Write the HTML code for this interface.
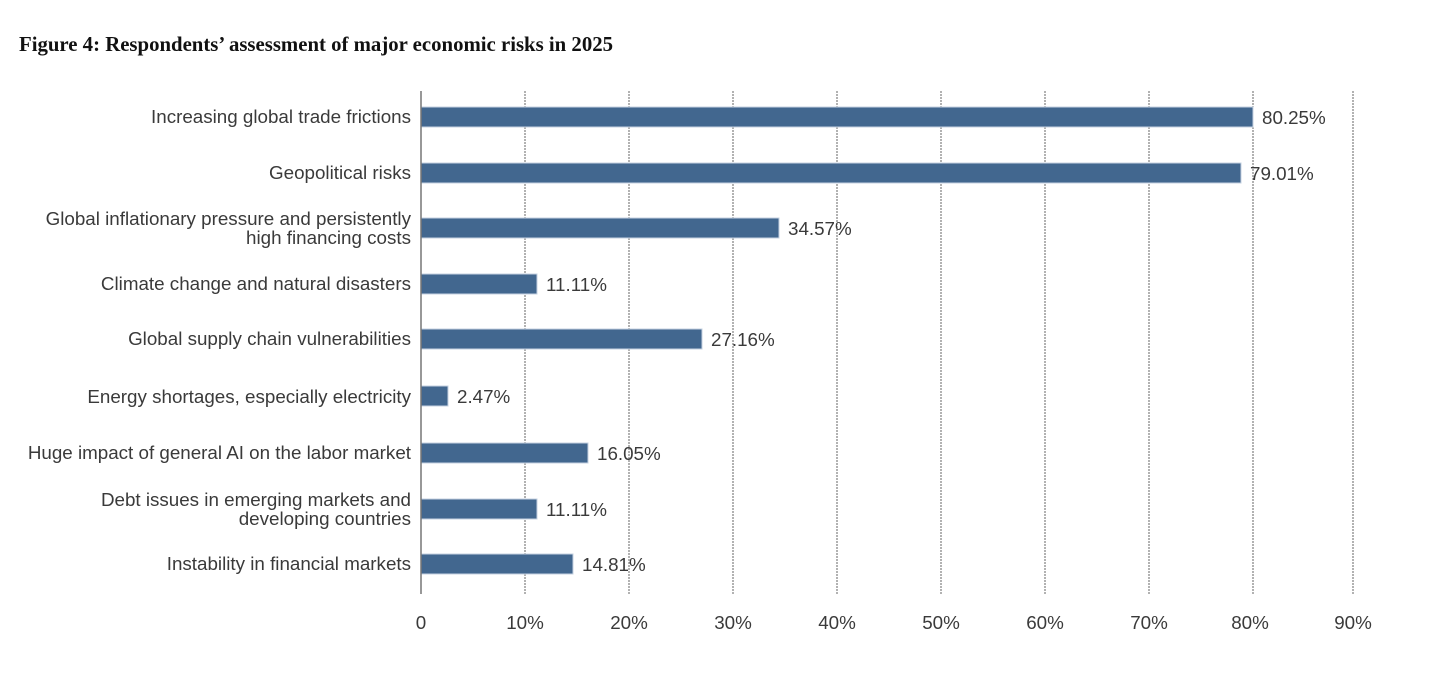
<!DOCTYPE html>
<html><head><style>
body{margin:0;background:#fff;width:1436px;height:672px;overflow:hidden}
</style></head><body>
<svg width="1436" height="672" xmlns="http://www.w3.org/2000/svg" font-family="Liberation Sans, sans-serif">
<text x="19" y="51" font-family="Liberation Serif, serif" font-weight="bold" font-size="21" fill="#111" textLength="594" lengthAdjust="spacingAndGlyphs">Figure 4: Respondents’ assessment of major economic risks in 2025</text>
<g stroke="#666" stroke-width="1" stroke-dasharray="2,1">
<line x1="525" y1="91" x2="525" y2="594"/><line x1="629" y1="91" x2="629" y2="594"/>
<line x1="733" y1="91" x2="733" y2="594"/><line x1="837" y1="91" x2="837" y2="594"/>
<line x1="941" y1="91" x2="941" y2="594"/><line x1="1045" y1="91" x2="1045" y2="594"/>
<line x1="1149" y1="91" x2="1149" y2="594"/><line x1="1253" y1="91" x2="1253" y2="594"/>
<line x1="1353" y1="91" x2="1353" y2="594"/>
</g>
<g fill="#42678f" stroke="#c5d2e0" stroke-width="1">
<rect x="421" y="107" width="832" height="20"/>
<rect x="421" y="163" width="820" height="20"/>
<rect x="421" y="218" width="358" height="20"/>
<rect x="421" y="274" width="116" height="20"/>
<rect x="421" y="329" width="281" height="20"/>
<rect x="421" y="386" width="27" height="20"/>
<rect x="421" y="443" width="167" height="20"/>
<rect x="421" y="499" width="116" height="20"/>
<rect x="421" y="554" width="152" height="20"/>
</g>
<line x1="421" y1="91" x2="421" y2="594" stroke="#777" stroke-width="1.5"/>
<g font-size="18.8" fill="#3a3a3a" text-anchor="end">
<text x="411" y="123">Increasing global trade frictions</text>
<text x="411" y="179">Geopolitical risks</text>
<text x="411" y="225">Global inflationary pressure and persistently</text>
<text x="411" y="244">high financing costs</text>
<text x="411" y="290">Climate change and natural disasters</text>
<text x="411" y="345">Global supply chain vulnerabilities</text>
<text x="411" y="403">Energy shortages, especially electricity</text>
<text x="411" y="459">Huge impact of general AI on the labor market</text>
<text x="411" y="506">Debt issues in emerging markets and</text>
<text x="411" y="525">developing countries</text>
<text x="411" y="570">Instability in financial markets</text>
</g>
<g font-size="18.8" fill="#3a3a3a">
<text x="1262" y="124">80.25%</text>
<text x="1250" y="180">79.01%</text>
<text x="788" y="235">34.57%</text>
<text x="546" y="291">11.11%</text>
<text x="711" y="346">27.16%</text>
<text x="457" y="403">2.47%</text>
<text x="597" y="460">16.05%</text>
<text x="546" y="516">11.11%</text>
<text x="582" y="571">14.81%</text>
</g>
<g font-size="18.8" fill="#3a3a3a" text-anchor="middle">
<text x="421" y="629">0</text><text x="525" y="629">10%</text><text x="629" y="629">20%</text>
<text x="733" y="629">30%</text><text x="837" y="629">40%</text><text x="941" y="629">50%</text>
<text x="1045" y="629">60%</text><text x="1149" y="629">70%</text><text x="1250" y="629">80%</text>
<text x="1353" y="629">90%</text>
</g>
</svg>
</body></html>
